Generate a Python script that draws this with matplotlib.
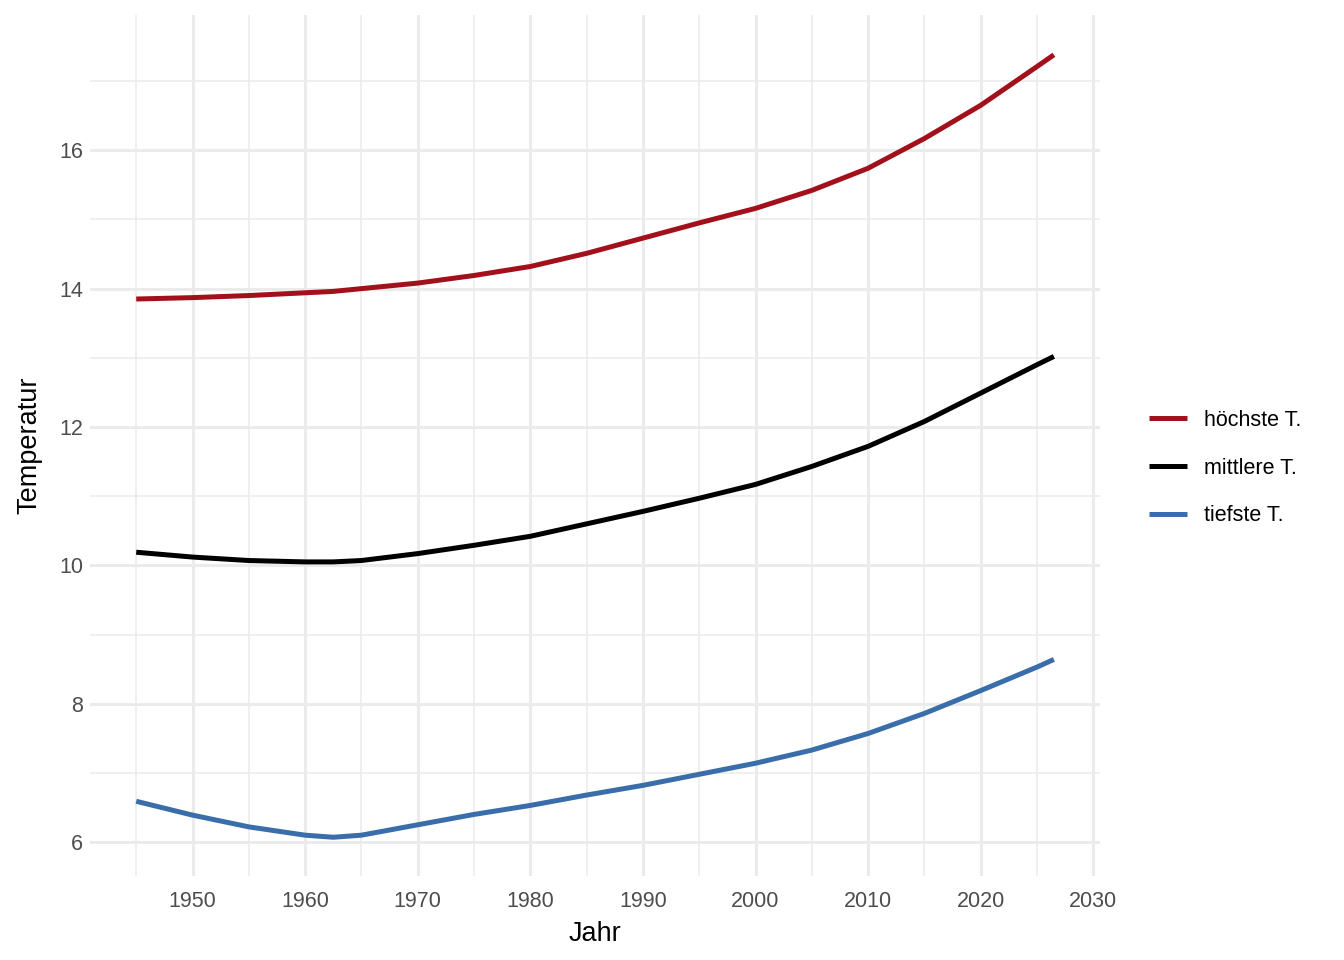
import matplotlib.pyplot as plt
from matplotlib.ticker import MultipleLocator

plt.rcParams['font.family'] = ['Liberation Sans', 'DejaVu Sans']

# Werte
jahre = [1945, 1950, 1955, 1960, 1962.5, 1965, 1970, 1975, 1980, 1985, 1990,
         1995, 2000, 2005, 2010, 2015, 2020, 2025, 2026.5]
hoechste = [13.85, 13.87, 13.90, 13.94, 13.96, 14.00, 14.08, 14.19, 14.32, 14.51, 14.73,
            14.95, 15.16, 15.42, 15.74, 16.17, 16.65, 17.21, 17.38]
mittlere = [10.19, 10.12, 10.07, 10.05, 10.05, 10.07, 10.17, 10.29, 10.42, 10.60, 10.78,
            10.97, 11.17, 11.43, 11.72, 12.08, 12.49, 12.90, 13.02]
tiefste = [6.59, 6.39, 6.22, 6.10, 6.07, 6.10, 6.25, 6.40, 6.53, 6.68, 6.82,
           6.98, 7.14, 7.33, 7.57, 7.86, 8.19, 8.53, 8.64]

serien = [('höchste T.', hoechste, '#A2111B'),
          ('mittlere T.', mittlere, '#000000'),
          ('tiefste T.', tiefste, '#3A6EAA')]

fig = plt.figure(figsize=(13.44, 9.6), dpi=100)
ax = fig.add_axes([0.067, 0.0875, 0.7515, 0.8965])

for name, werte, farbe in serien:
    ax.plot(jahre, werte, color=farbe, lw=3.6, label=name,
            solid_capstyle='butt', solid_joinstyle='round')

ax.set_xlim(1940.9, 2030.6)
ax.set_ylim(5.51, 17.95)

ax.xaxis.set_major_locator(MultipleLocator(10))
ax.xaxis.set_minor_locator(MultipleLocator(5))
ax.yaxis.set_major_locator(MultipleLocator(2))
ax.yaxis.set_minor_locator(MultipleLocator(1))

ax.grid(which='major', color='#ebebeb', lw=2.2)
ax.grid(which='minor', color='#ebebeb', lw=1.1)
ax.set_axisbelow(True)
for s in ax.spines.values():
    s.set_visible(False)
ax.tick_params(which='both', length=0, labelsize=15.5, labelcolor='#4d4d4d')
ax.tick_params(axis='x', pad=11)
ax.tick_params(axis='y', pad=5)

ax.set_xlabel('Jahr', fontsize=19.5, labelpad=6)
ax.set_ylabel('Temperatur', fontsize=19.5, labelpad=12)

leg = ax.legend(loc='center left', bbox_to_anchor=(1130 / 1344, 492 / 960),
                bbox_transform=fig.transFigure, frameon=False, fontsize=15.5,
                handlelength=1.75, handletextpad=0.8, labelspacing=1.25)

fig.savefig('out.png', dpi=100)
